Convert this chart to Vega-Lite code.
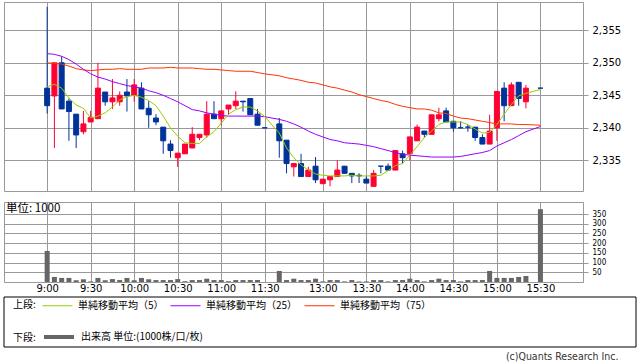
{
  "$schema": "https://vega.github.io/schema/vega-lite/v6.json",
  "padding": {"left": 3, "top": 1, "right": 0, "bottom": 0},
  "background": "white",
  "config": {
    "view": {"stroke": "#999999", "strokeWidth": 1},
    "axis": {"gridColor": "#999999", "gridOpacity": 1, "gridWidth": 1, "domain": false, "tickColor": "#999999", "labelColor": "#000000", "labelFont": "DejaVu Sans", "labelFontSize": 10, "labelOverlap": false, "labelFlush": false},
    "legend": {"labelFont": "Noto Sans CJK JP", "labelFontSize": 10, "labelColor": "#000000", "titleFont": "Noto Sans CJK JP", "titleFontSize": 10, "titleFontWeight": "normal", "titleColor": "#000000", "titleAnchor": "middle", "titleBaseline": "top", "symbolType": "stroke", "symbolSize": 900, "labelOffset": 5, "columnPadding": 4, "titlePadding": 6, "padding": 0, "orient": "none", "direction": "horizontal", "titleOrient": "left"}
  },
  "datasets": {
    "d": [
      {"i":0,"o":2346.1,"h":2358.6,"l":2342.2,"c":2343.4,"v":160,"m5":2346.3,"m25":2351.4,"m75":2350.0},
      {"i":1,"o":2344.9,"h":2350.0,"l":2336.9,"c":2350.0,"v":26,"m5":2346.7,"m25":2351.3,"m75":2349.9},
      {"i":2,"o":2350.0,"h":2351.0,"l":2342.9,"c":2342.9,"v":21,"m5":2346.1,"m25":2351.0,"m75":2349.8},
      {"i":3,"o":2344.1,"h":2344.5,"l":2338.0,"c":2342.5,"v":21,"m5":2344.6,"m25":2350.5,"m75":2349.5},
      {"i":4,"o":2342.1,"h":2342.1,"l":2336.9,"c":2338.9,"v":9,"m5":2343.5,"m25":2349.8,"m75":2349.1},
      {"i":5,"o":2339.4,"h":2342.6,"l":2339.0,"c":2340.6,"v":14,"m5":2343.0,"m25":2349.0,"m75":2348.9},
      {"i":6,"o":2340.9,"h":2342.6,"l":2340.9,"c":2341.6,"v":3,"m5":2341.5,"m25":2348.3,"m75":2348.8},
      {"i":7,"o":2341.4,"h":2350.0,"l":2341.4,"c":2346.1,"v":21,"m5":2341.8,"m25":2347.8,"m75":2348.9},
      {"i":8,"o":2345.5,"h":2345.5,"l":2343.4,"c":2344.0,"v":9,"m5":2342.3,"m25":2347.5,"m75":2349.0},
      {"i":9,"o":2344.0,"h":2347.5,"l":2342.9,"c":2344.6,"v":15,"m5":2343.2,"m25":2347.1,"m75":2349.0},
      {"i":10,"o":2344.0,"h":2345.6,"l":2343.4,"c":2345.0,"v":10,"m5":2344.3,"m25":2346.8,"m75":2349.1},
      {"i":11,"o":2345.5,"h":2347.5,"l":2342.5,"c":2344.9,"v":21,"m5":2344.8,"m25":2346.5,"m75":2349.0},
      {"i":12,"o":2345.0,"h":2347.5,"l":2344.0,"c":2346.6,"v":9,"m5":2345.0,"m25":2346.3,"m75":2349.0},
      {"i":13,"o":2346.1,"h":2347.0,"l":2342.9,"c":2342.9,"v":21,"m5":2344.7,"m25":2346.1,"m75":2349.0},
      {"i":14,"o":2343.0,"h":2344.1,"l":2340.0,"c":2342.0,"v":14,"m5":2344.2,"m25":2345.7,"m75":2349.2},
      {"i":15,"o":2341.5,"h":2342.1,"l":2340.4,"c":2340.9,"v":10,"m5":2343.4,"m25":2345.4,"m75":2349.2},
      {"i":16,"o":2340.1,"h":2340.1,"l":2336.0,"c":2338.0,"v":10,"m5":2341.8,"m25":2345.0,"m75":2349.2},
      {"i":17,"o":2337.5,"h":2338.1,"l":2335.4,"c":2336.5,"v":10,"m5":2340.0,"m25":2344.5,"m75":2349.3},
      {"i":18,"o":2335.4,"h":2336.1,"l":2334.0,"c":2336.1,"v":15,"m5":2338.7,"m25":2344.0,"m75":2349.2},
      {"i":19,"o":2336.0,"h":2337.5,"l":2336.0,"c":2337.5,"v":4,"m5":2337.7,"m25":2343.4,"m75":2349.2},
      {"i":20,"o":2336.9,"h":2340.1,"l":2336.9,"c":2339.0,"v":10,"m5":2337.6,"m25":2342.8,"m75":2349.2},
      {"i":21,"o":2338.5,"h":2339.0,"l":2338.1,"c":2339.0,"v":10,"m5":2337.6,"m25":2342.6,"m75":2349.1},
      {"i":22,"o":2338.9,"h":2344.1,"l":2338.5,"c":2342.1,"v":17,"m5":2338.6,"m25":2342.3,"m75":2349.0},
      {"i":23,"o":2342.1,"h":2344.1,"l":2341.4,"c":2341.4,"v":10,"m5":2339.4,"m25":2342.1,"m75":2349.0},
      {"i":24,"o":2341.4,"h":2342.6,"l":2340.4,"c":2342.6,"v":10,"m5":2340.7,"m25":2341.9,"m75":2348.9},
      {"i":25,"o":2342.9,"h":2343.5,"l":2342.0,"c":2343.5,"v":4,"m5":2342.1,"m25":2341.8,"m75":2348.8},
      {"i":26,"o":2343.4,"h":2345.6,"l":2342.9,"c":2344.1,"v":10,"m5":2342.8,"m25":2341.8,"m75":2348.7},
      {"i":27,"o":2344.1,"h":2344.1,"l":2342.5,"c":2344.0,"v":10,"m5":2343.2,"m25":2341.8,"m75":2348.7},
      {"i":28,"o":2344.5,"h":2344.5,"l":2342.0,"c":2342.0,"v":10,"m5":2343.2,"m25":2341.8,"m75":2348.7},
      {"i":29,"o":2342.1,"h":2342.9,"l":2340.4,"c":2340.4,"v":10,"m5":2342.6,"m25":2341.8,"m75":2348.5},
      {"i":30,"o":2340.0,"h":2340.0,"l":2340.0,"c":2340.0,"v":0,"m5":2341.7,"m25":2341.7,"m75":2348.3},
      {"i":32,"o":2340.6,"h":2341.5,"l":2335.4,"c":2338.0,"v":57,"m5":2339.2,"m25":2341.3,"m75":2348.0},
      {"i":33,"o":2338.1,"h":2338.1,"l":2333.0,"c":2334.5,"v":10,"m5":2336.9,"m25":2341.0,"m75":2347.7},
      {"i":34,"o":2334.0,"h":2334.5,"l":2332.5,"c":2334.5,"v":17,"m5":2335.4,"m25":2340.6,"m75":2347.5},
      {"i":35,"o":2334.5,"h":2336.0,"l":2332.5,"c":2332.5,"v":10,"m5":2334.3,"m25":2340.1,"m75":2347.3},
      {"i":36,"o":2332.5,"h":2334.0,"l":2332.5,"c":2333.5,"v":10,"m5":2333.5,"m25":2339.5,"m75":2347.0},
      {"i":37,"o":2334.1,"h":2335.5,"l":2331.5,"c":2332.0,"v":17,"m5":2332.9,"m25":2339.0,"m75":2346.9},
      {"i":38,"o":2331.4,"h":2332.1,"l":2331.4,"c":2332.1,"v":3,"m5":2332.7,"m25":2338.6,"m75":2346.6},
      {"i":39,"o":2332.0,"h":2332.5,"l":2331.0,"c":2332.5,"v":10,"m5":2332.6,"m25":2338.2,"m75":2346.3},
      {"i":40,"o":2332.5,"h":2335.0,"l":2332.5,"c":2333.5,"v":10,"m5":2332.6,"m25":2338.0,"m75":2346.1},
      {"i":41,"o":2334.1,"h":2334.1,"l":2333.0,"c":2333.0,"v":3,"m5":2332.6,"m25":2337.7,"m75":2345.8},
      {"i":42,"o":2333.0,"h":2333.0,"l":2331.5,"c":2332.6,"v":10,"m5":2332.7,"m25":2337.6,"m75":2345.5},
      {"i":43,"o":2332.7,"h":2333.0,"l":2331.5,"c":2332.6,"v":3,"m5":2332.6,"m25":2337.5,"m75":2345.1},
      {"i":44,"o":2332.1,"h":2332.6,"l":2331.5,"c":2331.5,"v":3,"m5":2332.6,"m25":2337.3,"m75":2344.8},
      {"i":45,"o":2331.0,"h":2333.5,"l":2331.0,"c":2333.0,"v":10,"m5":2332.6,"m25":2337.1,"m75":2344.5},
      {"i":46,"o":2334.1,"h":2334.1,"l":2333.0,"c":2334.1,"v":10,"m5":2332.7,"m25":2336.8,"m75":2344.2},
      {"i":47,"o":2334.1,"h":2334.5,"l":2333.5,"c":2333.5,"v":3,"m5":2333.4,"m25":2336.5,"m75":2344.0},
      {"i":48,"o":2333.5,"h":2336.5,"l":2333.5,"c":2336.5,"v":10,"m5":2334.2,"m25":2336.2,"m75":2343.6},
      {"i":49,"o":2336.0,"h":2336.5,"l":2334.5,"c":2335.4,"v":10,"m5":2334.5,"m25":2335.9,"m75":2343.3},
      {"i":50,"o":2336.0,"h":2338.6,"l":2335.0,"c":2338.6,"v":17,"m5":2335.8,"m25":2335.8,"m75":2343.1},
      {"i":51,"o":2338.0,"h":2340.5,"l":2338.0,"c":2340.1,"v":10,"m5":2337.1,"m25":2335.7,"m75":2342.9},
      {"i":52,"o":2339.5,"h":2339.5,"l":2338.5,"c":2339.0,"v":3,"m5":2338.5,"m25":2335.6,"m75":2342.9},
      {"i":53,"o":2339.0,"h":2342.0,"l":2339.0,"c":2342.0,"v":10,"m5":2339.5,"m25":2335.5,"m75":2342.7},
      {"i":54,"o":2341.4,"h":2343.1,"l":2341.0,"c":2342.0,"v":17,"m5":2340.5,"m25":2335.5,"m75":2342.3},
      {"i":55,"o":2342.6,"h":2343.1,"l":2340.9,"c":2340.9,"v":10,"m5":2340.9,"m25":2335.5,"m75":2342.2},
      {"i":56,"o":2341.0,"h":2341.0,"l":2339.4,"c":2340.0,"v":10,"m5":2340.9,"m25":2335.5,"m75":2341.8},
      {"i":57,"o":2340.0,"h":2341.0,"l":2340.0,"c":2340.0,"v":3,"m5":2340.9,"m25":2335.6,"m75":2341.5},
      {"i":58,"o":2340.1,"h":2340.5,"l":2339.4,"c":2340.1,"v":10,"m5":2340.5,"m25":2335.8,"m75":2341.4},
      {"i":59,"o":2340.1,"h":2340.1,"l":2338.0,"c":2338.5,"v":10,"m5":2339.8,"m25":2336.0,"m75":2341.2},
      {"i":60,"o":2338.5,"h":2339.0,"l":2337.5,"c":2337.5,"v":10,"m5":2339.2,"m25":2336.2,"m75":2341.0},
      {"i":61,"o":2337.5,"h":2342.0,"l":2337.5,"c":2339.5,"v":57,"m5":2339.3,"m25":2336.5,"m75":2340.8},
      {"i":62,"o":2340.0,"h":2345.6,"l":2338.0,"c":2345.6,"v":21,"m5":2340.5,"m25":2337.2,"m75":2340.6},
      {"i":63,"o":2346.1,"h":2347.0,"l":2341.0,"c":2343.4,"v":21,"m5":2342.1,"m25":2337.7,"m75":2340.6},
      {"i":64,"o":2343.4,"h":2347.0,"l":2343.4,"c":2346.6,"v":21,"m5":2343.6,"m25":2338.2,"m75":2340.6},
      {"i":65,"o":2347.0,"h":2347.0,"l":2343.4,"c":2344.5,"v":26,"m5":2344.9,"m25":2338.8,"m75":2340.5},
      {"i":66,"o":2344.0,"h":2346.6,"l":2343.0,"c":2346.1,"v":31,"m5":2345.3,"m25":2339.4,"m75":2340.5},
      {"i":68,"o":2346.1,"h":2346.1,"l":2346.1,"c":2346.1,"v":375,"m5":2345.9,"m25":2340.2,"m75":2340.4}
    ]
  },
  "vconcat": [
    {
      "width": 579,
      "height": 189,
      "data": {"name": "d"},
      "encoding": {
        "x": {"field": "i", "type": "quantitative", "scale": {"domain": [-5.26, 73.18], "nice": false, "zero": false},
          "axis": {"values": [0, 6, 12, 18, 24, 30, 38, 44, 50, 56, 62, 68], "labels": false, "ticks": false, "grid": true, "title": null}}
      },
      "layer": [
        {
          "mark": {"type": "rule", "strokeWidth": 1},
          "encoding": {
            "y": {"field": "l", "type": "quantitative", "scale": {"domain": [2330.28, 2359.35], "nice": false, "zero": false},
              "axis": {"orient": "right", "values": [2335, 2340, 2345, 2350, 2355], "format": ",", "tickSize": 5, "labelPadding": 4, "title": null}},
            "y2": {"field": "h"},
            "color": {"condition": {"test": "datum.c > datum.o", "value": "#ff0033"}, "value": "#003399"}
          }
        },
        {
          "mark": {"type": "bar", "size": 5, "strokeWidth": 1},
          "encoding": {
            "y": {"field": "o", "type": "quantitative", "title": null},
            "y2": {"field": "c"},
            "fill": {"condition": {"test": "datum.c > datum.o", "value": "#ff0033"}, "value": "#003399"},
            "stroke": {"condition": {"test": "datum.c > datum.o", "value": "#ff0033"}, "value": "#003399"}
          }
        },
        {
          "mark": {"type": "line", "strokeWidth": 1},
          "encoding": {
            "y": {"field": "m75", "type": "quantitative", "title": null},
            "color": {"datum": "単純移動平均（75）", "type": "nominal",
              "scale": {"domain": ["単純移動平均（5）", "単純移動平均（25）", "単純移動平均（75）"], "range": ["#99cc00", "#9900ff", "#ff3300"]},
              "legend": {"title": "上段:", "legendX": 9, "legendY": 288, "symbolStrokeWidth": 1}}
          }
        },
        {
          "mark": {"type": "line", "strokeWidth": 1},
          "encoding": {
            "y": {"field": "m25", "type": "quantitative", "title": null},
            "color": {"datum": "単純移動平均（25）", "type": "nominal"}
          }
        },
        {
          "mark": {"type": "line", "strokeWidth": 1},
          "encoding": {
            "y": {"field": "m5", "type": "quantitative", "title": null},
            "color": {"datum": "単純移動平均（5）", "type": "nominal"}
          }
        }
      ]
    },
    {
      "width": 579,
      "height": 80,
      "data": {"name": "d"},
      "title": {"text": "単位: 1000", "anchor": "start", "offset": -12.5, "dx": 2, "fontSize": 11.5, "font": "Noto Sans CJK JP", "fontWeight": "normal", "color": "#000000"},
      "mark": {"type": "bar", "size": 5},
      "encoding": {
        "x": {"field": "i", "type": "quantitative", "scale": {"domain": [-5.26, 73.18], "nice": false, "zero": false},
          "axis": {"values": [0, 6, 12, 18, 24, 30, 38, 44, 50, 56, 62, 68], "labelExpr": "['9:00','9:30','10:00','10:30','11:00','11:30','13:00','13:30','14:00','14:30','15:00','15:30'][indexof([0,6,12,18,24,30,38,44,50,56,62,68], datum.value)]", "ticks": false, "labelPadding": 1, "grid": true, "title": null}},
        "y": {"field": "v", "type": "quantitative", "scale": {"domain": [0, 412], "nice": false},
          "axis": {"orient": "right", "values": [50, 100, 150, 200, 250, 300, 350], "tickSize": 5, "labelPadding": 4, "labelFont": "DejaVu Sans Condensed", "labelFontSize": 8, "title": null}},
        "color": {"datum": "出来高 単位:(1000株/口/枚)", "type": "nominal", "scale": {"range": ["#666666"]},
          "legend": {"title": "下段:", "legendX": 9, "legendY": 118, "symbolStrokeColor": "#666666", "symbolStrokeWidth": 4}}
      }
    },
    {
      "width": 632,
      "height": 54,
      "view": {"stroke": null},
      "data": {"values": [{}]},
      "mark": {"type": "rect", "fill": "transparent", "stroke": "#000000", "strokeWidth": 1},
      "encoding": {
        "y": {"datum": 50, "type": "quantitative", "scale": {"domain": [0, 54], "nice": false, "zero": false}, "axis": null},
        "y2": {"datum": 0}
      },
      "title": {"text": "(c)Quants Research Inc.", "orient": "bottom", "anchor": "end", "offset": 4, "dx": -18, "fontSize": 10.5, "font": "DejaVu Sans Condensed", "fontWeight": "normal", "color": "#333333"}
    }
  ],
  "spacing": 11,
  "bounds": "flush",
  "resolve": {"scale": {"color": "independent"}}
}
